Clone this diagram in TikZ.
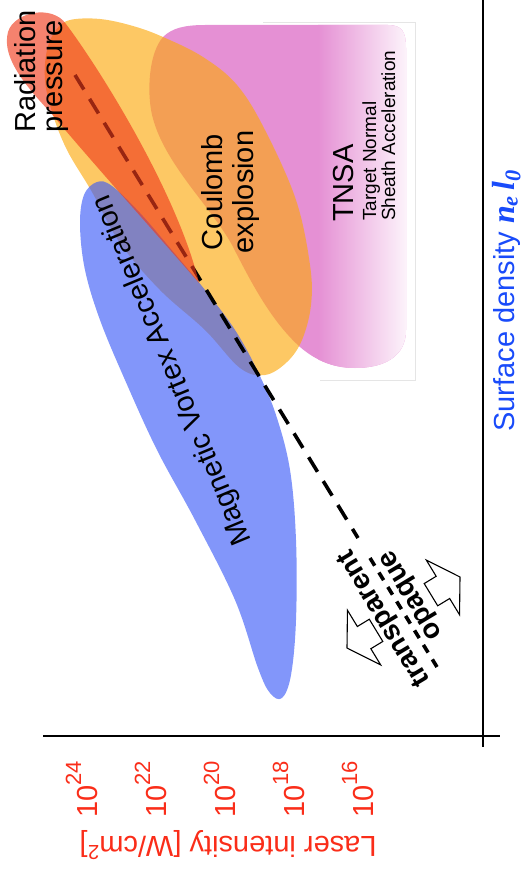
\documentclass[tikz,border=0pt]{standalone}
\usepackage{fontspec}
\setmainfont{Liberation Sans}
\newfontfamily\densfont{Liberation Serif}
\definecolor{tnsapink}{RGB}{229,144,212}
\definecolor{coulyel}{RGB}{252,169,13}
\definecolor{radred}{RGB}{239,59,28}
\definecolor{mvablue}{RGB}{59,91,247}
\definecolor{axred}{RGB}{250,45,25}
\definecolor{axblue}{RGB}{25,75,250}
\newcommand{\tenpow}[1]{10\raisebox{16pt}{\fontsize{22}{22}\selectfont #1}}
\begin{document}
\begin{tikzpicture}[x=1pt,y=-1pt,
  region/.style={fill opacity=0.64},
  biglbl/.style={inner sep=0pt, font=\fontsize{29}{30}\selectfont},
  smalllbl/.style={inner sep=0pt, font=\fontsize{19}{20}\selectfont},
  ticklbl/.style={inner sep=0pt, text=axred, rotate=90, anchor=base west, font=\fontsize{29}{30}\selectfont},
  axisline/.style={line width=2.8pt},
  boundary/.style={line width=3.6pt, line cap=butt},
  regime/.style={inner sep=0pt, font=\fontsize{28}{30}\selectfont\bfseries, rotate=121},
  hollowarrow/.pic={\draw[line width=1.1pt, fill=white, line join=miter]
      (0,0) -- (-20,32) -- (-20,13) -- (-34,13) -- (-34,-13) -- (-20,-13) -- (-20,-32) -- cycle;}
]
\useasboundingbox (0,0) rectangle (526,875);

% TNSA region: solid pink fading to white on the high-density side
\begin{scope}
  \clip (163,37) .. controls (172,28) and (185,25) .. (205,25) -- (388,25)
    .. controls (402,25) and (406,32) .. (406,48) -- (406,330)
    .. controls (406,356) and (385,368) .. (355,368)
    .. controls (330,368) and (313,358) .. (300,347)
    .. controls (270,320) and (250,280) .. (232,245)
    .. controls (210,205) and (160,160) .. (151,110)
    .. controls (147,85) and (150,52) .. (163,37) -- cycle;
  \fill[tnsapink] (140,15) rectangle (420,380);
  \shade[left color=tnsapink, right color=tnsapink!7] (318,15) rectangle (410,380);
\end{scope}
\draw[black!10, line width=0.8pt] (263,22) -- (415,22) -- (415,380) -- (320,380);

% Coulomb explosion region
\fill[coulyel, region] plot[smooth cycle, tension=0.6] coordinates {
  (70,20) (100,19) (133,26) (163,37) (203,57) (237,85) (265,130) (296,200)
  (310,265) (311,305) (302,340) (287,362) (265,375) (240,368) (205,330)
  (160,290) (120,243) (92,192) (67,150) (52,112) (45,80) (47,50) (56,30)};

% Magnetic vortex acceleration region
\fill[mvablue, region] plot[smooth cycle, tension=0.6] coordinates {
  (97,182) (112,186) (140,213) (170,248) (205,290) (235,330) (258,372)
  (276,415) (290,470) (296,540) (296,620) (291,675) (282,698) (270,693)
  (258,668) (235,600) (195,520) (157,450) (125,380) (100,320) (85,270)
  (80,225) (84,195)};

% transparent / opaque boundary
\coordinate (lineTop) at (75,75);
\coordinate (lineMid) at (358,538);
\coordinate (lineGap) at (370,558);
\coordinate (lineEnd) at (437,667);
\draw[boundary, dash pattern=on 17pt off 11pt] (lineTop) -- (lineMid);
\draw[boundary, dash pattern=on 9pt off 8pt] (lineGap) -- (lineEnd);

% Radiation pressure region
\fill[radred, region] (199,283) .. controls (160,238) and (90,160) .. (50,112)
  .. controls (20,80) and (2,55) .. (8,32)
  .. controls (14,12) and (52,4) .. (66,24)
  .. controls (102,72) and (178,195) .. (199,283) -- cycle;

% region labels
\node[biglbl, rotate=90, anchor=base west] (radA) at (35,133) {Radiation};
\node[biglbl, rotate=90, anchor=base west] (radB) at (62,133) {pressure};
\node[biglbl, rotate=90, anchor=base] (coulA) at (222,192) {Coulomb};
\node[biglbl, rotate=90, anchor=base] (coulB) at (253,192) {explosion};
\node[biglbl, rotate=90, anchor=base west] (tnsa) at (353,222) {TNSA};
\node[smalllbl, rotate=90, anchor=base west] (tnsaA) at (376,221) {Target Normal};
\node[smalllbl, rotate=90, anchor=base west] (tnsaB) at (395,221) {Sheath Acceleration};
\node[biglbl, rotate=112.5] (mva) at (173,370) {Magnetic Vortex Acceleration};

\node[regime] (transp) at (385,618) {transparent};
\node[regime] (opaq) at (413,594) {opaque};
\pic[rotate=211.3] (arrT) at (347,648) {hollowarrow};
\pic[rotate=31.3] (arrO) at (460,577) {hollowarrow};

% axes
\coordinate (vTop) at (483,0);
\coordinate (vBot) at (483,747);
\coordinate (hLeft) at (43,736);
\coordinate (hRight) at (500,736);
\draw[axisline] (vTop) -- (vBot);
\draw[axisline] (hLeft) -- (hRight);

\node[ticklbl] (t24) at (97,818) {\tenpow{24}};
\node[ticklbl] (t22) at (166,818) {\tenpow{22}};
\node[ticklbl] (t20) at (235,818) {\tenpow{20}};
\node[ticklbl] (t18) at (304,818) {\tenpow{18}};
\node[ticklbl] (t16) at (373,818) {\tenpow{16}};
\node[inner sep=0pt, text=axred, rotate=180, font=\fontsize{29}{30}\selectfont] (ylab)
  at (228,845) {Laser intensity [W/cm\textsuperscript{2}]};
\node[inner sep=0pt, text=axblue, rotate=90, anchor=base west, font=\fontsize{29}{30}\selectfont] (xlab)
  at (514,432) {Surface density {\densfont\bfseries\itshape\fontsize{32}{32}\selectfont n\textsubscript{e}\,l\textsubscript{0}}};
\end{tikzpicture}
\end{document}
